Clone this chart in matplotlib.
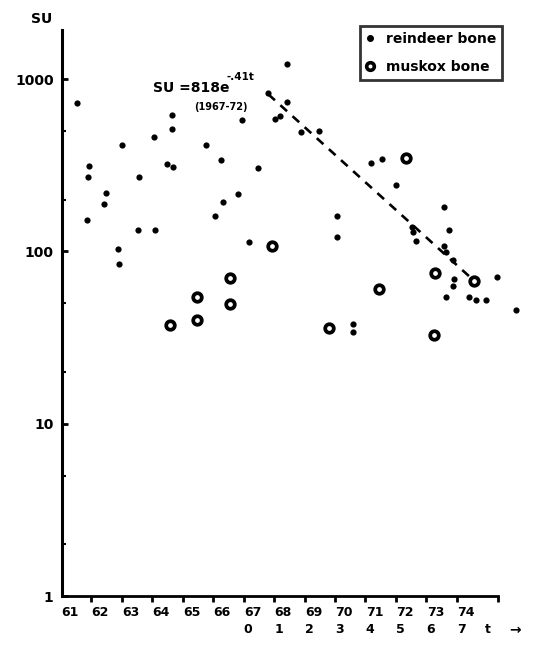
import numpy as np
import matplotlib
matplotlib.use("Agg")
import matplotlib.pyplot as plt
from matplotlib.lines import Line2D
from matplotlib.ticker import FixedLocator, NullFormatter

plt.rcParams['font.family'] = ['DejaVu Sans']
plt.rcParams['font.weight'] = 'bold'

# reindeer bone samples (year, SU)
reindeer_year = [61.23, 61.63, 61.59, 61.56, 62.18, 62.12, 62.71, 63.27, 63.24, 63.80,
                 63.76, 64.36, 64.36, 64.19, 64.39, 65.47, 65.97, 66.03, 65.77, 66.53,
                 62.58, 62.61, 66.89, 68.14, 67.51, 68.14, 67.74, 67.88, 68.60, 69.19,
                 66.66, 67.18, 70.87, 71.23, 71.69, 73.27, 69.75, 69.78, 72.22, 72.25,
                 72.35, 73.43, 73.27, 73.34, 73.57, 73.60, 73.57, 75.01, 73.34, 74.09,
                 74.32, 74.65, 75.64, 70.28, 70.28]
reindeer_su = [730, 314, 271, 153, 219, 189, 416, 271, 134, 134,
               462, 621, 515, 323, 310, 416, 340, 194, 161, 216,
               104, 85, 114, 1227, 833, 738, 589, 613, 494, 501,
               580, 305, 327, 345, 244, 182, 161, 122, 139, 129,
               115, 134, 108, 99, 89, 69.5, 63, 71.4, 54.7, 54.7,
               52.5, 52.5, 45.9, 38, 34]

# muskox bone samples (year, SU)
muskox_year = [67.64, 72.02, 72.97, 74.26, 71.16, 69.49, 72.94, 66.26, 65.18, 66.26, 65.18, 64.29]
muskox_su = [108, 349, 75, 67.6, 60.8, 36, 32.9, 70.3, 54.6, 49.8, 40.2, 37.6]

# fitted decline SU = 818 e^(-.41t), 1967-72
trend_year = [67.51, 74.25]
trend_su = [818, 68]

years = list(range(61, 75))
year_labels = [str(y) for y in years]
t_vals = list(range(0, 8))

W, H = 557, 645
fig = plt.figure(figsize=(W / 100, H / 100), dpi=100)
ax = fig.add_axes([62 / W, 1 - 596 / H, 436 / W, 566 / H])

ax.set_yscale('log')
ax.set_ylim(1, 1930)
ax.set_xlim(60.74, 75.05)

ax.scatter(reindeer_year, reindeer_su, s=20, c='black', marker='o', linewidths=0, clip_on=False, zorder=3)
ax.scatter(muskox_year, muskox_su, s=38, facecolors='white', edgecolors='black', linewidths=2.7,
           marker='o', clip_on=False, zorder=3)
ax.plot(trend_year, trend_su, color='black', lw=1.9, dashes=(3.4, 2.8), zorder=2)

for s in ['top', 'right']:
    ax.spines[s].set_visible(False)
ax.spines['left'].set_linewidth(2.2)
ax.spines['bottom'].set_linewidth(2.0)

# y axis
ax.set_yticks([1, 10, 100, 1000])
ax.set_yticklabels(['1', '10', '100', '1000'], fontsize=10, fontweight='bold')
ax.yaxis.set_minor_locator(FixedLocator([2, 5, 20, 50, 200, 500]))
ax.yaxis.set_minor_formatter(NullFormatter())
ax.tick_params(axis='y', which='major', direction='in', length=4, width=2, pad=6)
ax.tick_params(axis='y', which='minor', direction='in', length=3, width=1.5)

# x axis: year labels sit just right of the tick marks
ax.set_xticks(years)
ax.set_xticklabels(year_labels, fontsize=9, fontweight='bold')
ax.tick_params(axis='x', which='major', length=0, pad=7)
ax.xaxis.set_minor_locator(FixedLocator([y - 0.3 for y in years] + [75.05]))
ax.tick_params(axis='x', which='minor', direction='out', length=4, width=2)

# second row: t since 1967
tr = ax.get_xaxis_transform()
for t in t_vals:
    ax.text(67 + t - 0.15, -0.060, str(t), transform=tr, ha='center', va='center',
            fontsize=9, fontweight='bold', clip_on=False)
ax.text(74.72, -0.060, 't', transform=tr, ha='center', va='center', fontsize=9, fontweight='bold')
ax.text(75.62, -0.060, '\u2192', transform=tr, ha='center', va='center', fontsize=10, fontweight='bold')

fig.text(42 / W, 1 - 19 / H, 'SU', ha='center', va='center', fontsize=10, fontweight='bold')

# fit annotation
ax.text(63.73, 890, 'SU =818e', ha='left', va='center', fontsize=10, fontweight='bold')
ax.text(66.15, 1035, '-.41t', ha='left', va='center', fontsize=7.5, fontweight='bold')
ax.text(65.95, 690, '(1967-72)', ha='center', va='center', fontsize=7, fontweight='bold')

handles = [
    Line2D([], [], ls='none', marker='o', ms=4, mfc='black', mec='black'),
    Line2D([], [], ls='none', marker='o', ms=5.5, mfc='white', mec='black', mew=2.6),
]
leg = fig.legend(handles, ['reindeer bone', 'muskox bone'], loc='upper left',
                 bbox_to_anchor=(360 / W, 1 - 26 / H), frameon=True, fancybox=False,
                 prop={'size': 10, 'weight': 'bold'}, handlelength=0.6, handletextpad=0.8,
                 labelspacing=1.0, borderpad=0.45, borderaxespad=0)
leg.get_frame().set_edgecolor('black')
leg.get_frame().set_linewidth(2)

fig.savefig('out.png', dpi=100)
